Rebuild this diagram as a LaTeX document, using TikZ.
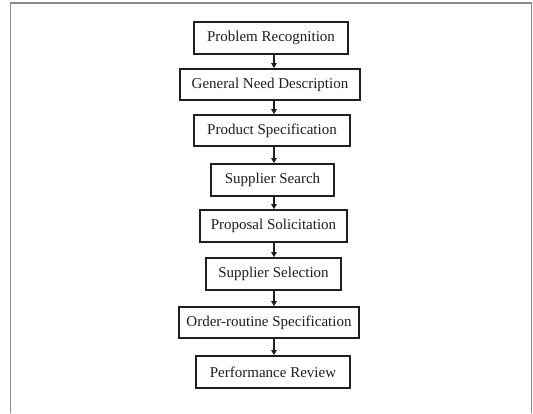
\documentclass[tikz,border=0pt]{standalone}
\usepackage{fontspec}
\setmainfont{Liberation Serif}
\usetikzlibrary{arrows.meta}
\definecolor{framegray}{HTML}{8A8A8A}
\definecolor{inkdark}{HTML}{1E1E1E}
\begin{document}
\begin{tikzpicture}[x=1pt,y=-1pt,
  stage/.style={draw=inkdark, line width=1.7pt, inner sep=0pt, fill=white,
    text=inkdark, font=\fontsize{15}{17}\selectfont},
  flow/.style={draw=inkdark, line width=1.1pt,
    -{Triangle[length=5pt,width=5.5pt]}}]
  \useasboundingbox (0,0) rectangle (533,413);
  % page frame (open at the bottom)
  \draw[framegray, line width=1.8pt] (10.5,413) -- (10.5,3) -- (531.5,3) -- (531.5,413);

  % stages of the buying process
  \node[stage, minimum width=154pt, minimum height=32pt] (s1) at (271,38)    {Problem Recognition};
  \node[stage, minimum width=180pt, minimum height=31pt] (s2) at (270,84.5)  {General Need Description};
  \node[stage, minimum width=156pt, minimum height=31pt] (s3) at (272,130.5) {Product Specification};
  \node[stage, minimum width=123pt, minimum height=32pt] (s4) at (272.5,180) {Supplier Search};
  \node[stage, minimum width=147pt, minimum height=32pt] (s5) at (273.5,226) {Proposal Solicitation};
  \node[stage, minimum width=135pt, minimum height=32pt] (s6) at (273.5,274) {Supplier Selection};
  \node[stage, minimum width=180pt, minimum height=31pt] (s7) at (269,322.5) {Order-routine Specification};
  \node[stage, minimum width=154pt, minimum height=32pt] (s8) at (273,372)   {Performance Review};

  % vertical axis of the connectors
  \coordinate (ax) at (274,0);
  \foreach \a/\b in {s1/s2,s2/s3,s3/s4,s4/s5,s5/s6,s6/s7,s7/s8}
    \draw[flow] (\a.south -| ax) -- (\b.north -| ax);
\end{tikzpicture}
\end{document}
